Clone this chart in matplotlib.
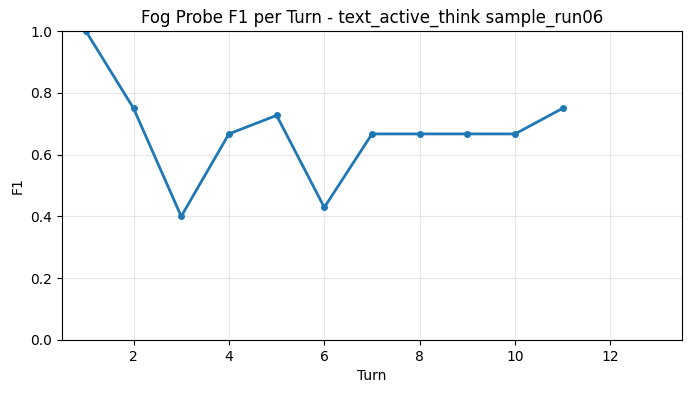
import matplotlib
matplotlib.use("Agg")
import matplotlib.pyplot as plt

# Data
turns = [1, 2, 3, 4, 5, 6, 7, 8, 9, 10, 11]
f1_scores = [1.0, 0.75, 0.4, 0.667, 0.727, 0.429, 0.667, 0.667, 0.667, 0.667, 0.75]

fig, ax = plt.subplots(figsize=(6.91, 3.93), dpi=100)
fig.subplots_adjust(left=0.0897, right=0.987, top=0.921, bottom=0.135)

ax.plot(turns, f1_scores, marker='o', markersize=4, linewidth=2, color='#1f77b4')
ax.set_xlim(0.5, 13.5)
ax.set_ylim(0, 1.0)
ax.set_xlabel('Turn')
ax.set_ylabel('F1')
ax.set_title('Fog Probe F1 per Turn - text_active_think sample_run06')
ax.grid(True, alpha=0.3)

fig.savefig('out.png', dpi=100)
